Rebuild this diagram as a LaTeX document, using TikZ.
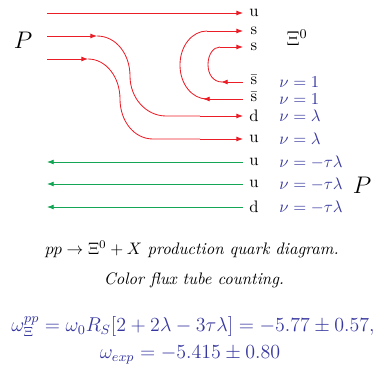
\documentclass[tikz,border=0pt]{standalone}
\usetikzlibrary{arrows.meta}
\definecolor{qred}{RGB}{235,30,40}
\definecolor{qgreen}{RGB}{20,165,85}
\definecolor{qblue}{RGB}{55,55,160}
\begin{document}
\begin{tikzpicture}[x=0.6pt,y=-0.6pt,
  quark/.style={line width=0.5pt,qred},
  anti/.style={line width=0.5pt,qgreen},
  tip/.style={-{Latex[length=4pt,width=3pt]}},
  flav/.style={anchor=center,inner sep=0pt},
  nul/.style={anchor=west,inner sep=0pt,text=qblue},
  txt/.style={anchor=center,inner sep=0pt},
  basetxt/.style={anchor=base,inner sep=0pt}]
\useasboundingbox (0,0) rectangle (381,366);
% labels
\node[flav] (l1) at (254,13) {u};
\node[flav] (l2) at (254,31) {s};
\node[flav] (l3) at (254,47) {s};
\node[flav] (l4) at (254,80) {$\bar{\mathrm{s}}$};
\node[flav] (l5) at (254,97) {$\bar{\mathrm{s}}$};
\node[flav] (l6) at (254,116) {d};
\node[flav] (l7) at (254,139) {u};
\node[flav] (l8) at (254,162) {u};
\node[flav] (l9) at (254,184) {u};
\node[flav] (l10) at (254,207) {d};
\node[nul] (n4) at (279,82) {$\nu=1$};
\node[nul] (n5) at (279,99) {$\nu=1$};
\node[nul] (n6) at (279,116) {$\nu=\lambda$};
\node[nul] (n7) at (279,139) {$\nu=\lambda$};
\node[nul] (n8) at (279,162) {$\nu=-\tau\lambda$};
\node[nul] (n9) at (279,184) {$\nu=-\tau\lambda$};
\node[nul] (n10) at (279,207) {$\nu=-\tau\lambda$};
\node[txt] (xi) at (297,38) {\large$\Xi^0$};
\node[txt] (pl) at (23,40) {\Large$P$};
\node[txt] (pr) at (362,185) {\Large$P$};
% endpoints
\foreach \n/\y in {1/13,2/31,3/47,4/82,5/99,6/116,7/139,8/162,9/184,10/207}{
  \coordinate (e\n) at (243,\y);}
\coordinate (s1) at (47,13);
\coordinate (s2) at (47,36);
\coordinate (s3) at (47,59);
\coordinate (s8) at (47,162);
\coordinate (s9) at (47,184);
\coordinate (s10) at (47,207);
% red quark lines
\draw[quark,tip] (s1) -- (e1);
\draw[quark,tip] (s2) -- (97,36);
\draw[quark] (97,36) .. controls (116,36) and (130,54) .. (130,76)
  .. controls (130,98) and (146,116) .. (166,116) -- (200,116);
\draw[quark,tip] (200,116) -- (e6);
\draw[quark,tip] (s3) -- (88,59);
\draw[quark] (88,59) .. controls (106,59) and (120,77) .. (120,99)
  .. controls (120,121) and (134,139) .. (153,139) -- (200,139);
\draw[quark,tip] (200,139) -- (e7);
% big loop s - sbar
\draw[quark,tip] (207,31) -- (e2);
\draw[quark] (207,31) .. controls (192,31) and (180,46) .. (180,65)
  .. controls (180,84) and (192,99) .. (207,99);
\draw[quark,tip] (e5) -- (203,99);
% small loop s - sbar
\draw[quark,tip] (220,47) -- (e3);
\draw[quark] (220,47) .. controls (213,47) and (208,55) .. (208,64.5)
  .. controls (208,74) and (213,82) .. (222,82);
\draw[quark,tip] (e4) -- (221,82);
% green antiquark lines
\draw[anti,tip] (e8) -- (s8);
\draw[anti,tip] (e9) -- (s9);
\draw[anti,tip] (e10) -- (s10);
% captions
\node[basetxt] (c1) at (192,255) {$pp\rightarrow\Xi^0+X$ \itshape production quark diagram.};
\node[basetxt] (c2) at (194,285) {\itshape Color flux tube counting.};
\node[basetxt,text=qblue] (f1) at (193,332) {\large$\omega_\Xi^{pp}=\omega_0R_S[2+2\lambda-3\tau\lambda]=-5.77\pm0.57,$};
\node[basetxt,text=qblue] (f2) at (190,359) {\large$\omega_{exp}=-5.415\pm0.80$};
\end{tikzpicture}
\end{document}
